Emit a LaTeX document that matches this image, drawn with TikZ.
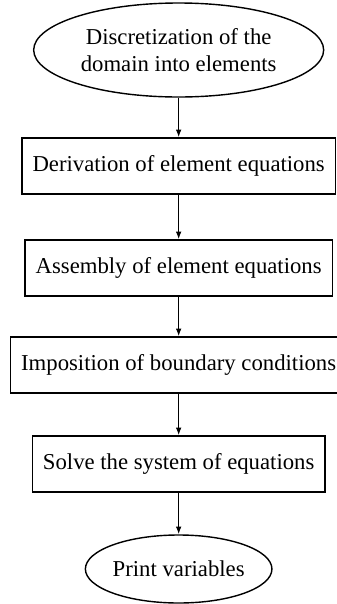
\documentclass[tikz,border=0pt]{standalone}
\usepackage{fontspec}
\setmainfont{Liberation Serif}
\usepackage{tikz}
\usetikzlibrary{
  arrows.meta,
  positioning,
  shapes.geometric
}

\begin{document}
\begin{tikzpicture}[
  font=\fontsize{19.4pt}{23pt}\selectfont,
  >={Latex[length=6.5pt,width=4.8pt]},
  terminal/.style={
    ellipse,
    draw=black,
    line width=1.2pt,
    inner sep=0pt,
    align=center
  },
  process/.style={
    rectangle,
    draw=black,
    line width=1.2pt,
    minimum height=1.68cm,
    inner xsep=0.32cm,
    align=center
  },
  flow/.style={->,draw=black,line width=1.1pt}
]
\useasboundingbox (0,0) rectangle (10.11,-18.12);

\node[terminal,minimum width=8.70cm,minimum height=2.82cm] (discretize) at (5.36,-1.50)
  {Discretization of the\\domain into elements};
\node[process] (derive) at (5.36,-4.98) {Derivation of element equations};
\node[process] (assemble) at (5.36,-8.04) {Assembly of element equations};
\node[process] (impose) at (5.36,-10.95) {Imposition of boundary conditions};
\node[process] (solve) at (5.36,-13.92) {Solve the system of equations};
\node[terminal,minimum width=5.58cm,minimum height=2.04cm] (print) at (5.36,-17.07)
  {Print variables};

\draw[flow] (discretize) -- (derive);
\draw[flow] (derive) -- (assemble);
\draw[flow] (assemble) -- (impose);
\draw[flow] (impose) -- (solve);
\draw[flow] (solve) -- (print);
\end{tikzpicture}
\end{document}
